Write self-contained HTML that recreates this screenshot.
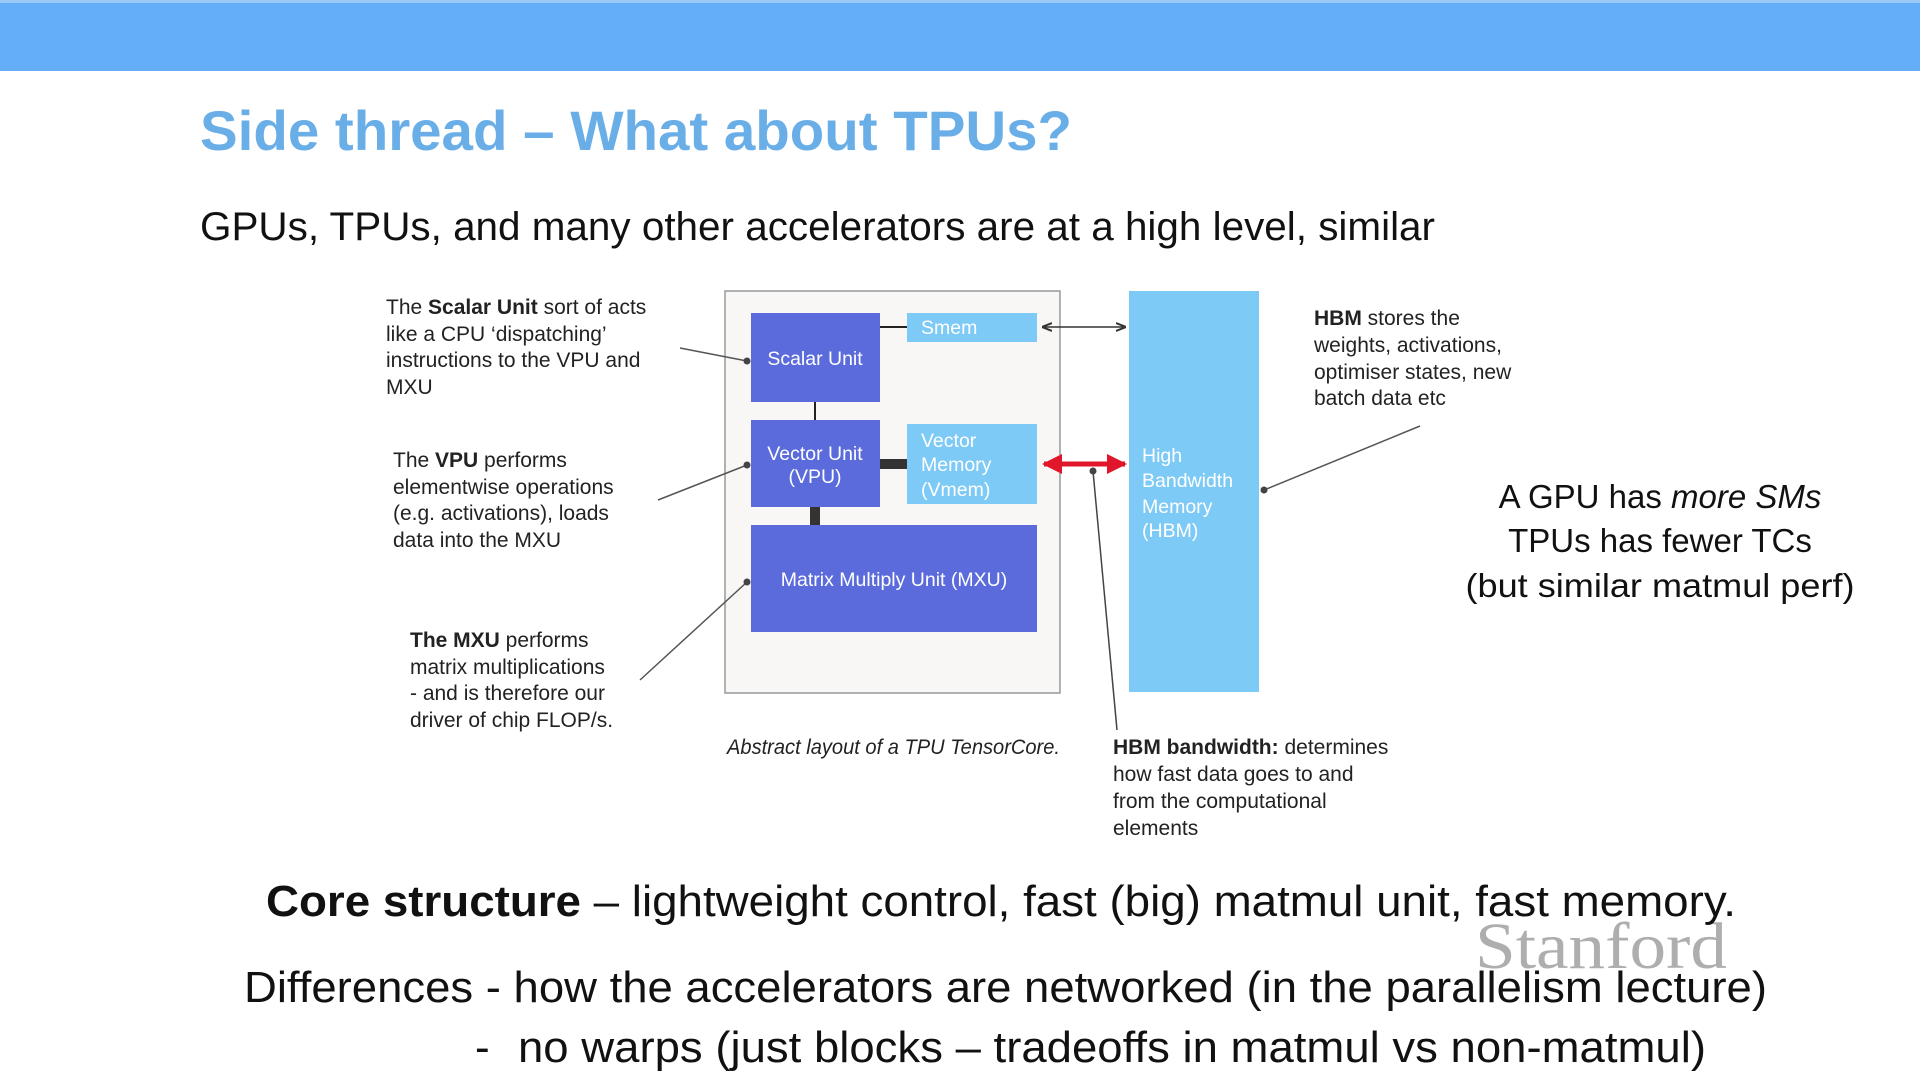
<!DOCTYPE html>
<html><head><meta charset="utf-8"><style>
html,body{margin:0;padding:0;background:#fff;}
svg{display:block;}
.a{font-family:"Liberation Sans",sans-serif;font-size:21px;fill:#222;}
.s{font-family:"Liberation Sans",sans-serif;fill:#111;}
.w{font-family:"Liberation Sans",sans-serif;font-size:19.5px;fill:#fff;}
</style></head><body>
<svg width="1920" height="1080" viewBox="0 0 1920 1080" xmlns="http://www.w3.org/2000/svg">
<defs>
<marker id="ab" markerWidth="10" markerHeight="10" refX="9" refY="5" orient="auto-start-reverse" markerUnits="userSpaceOnUse"><path d="M0,1 L10,5 L0,9" fill="none" stroke="#333" stroke-width="2"/></marker>
<marker id="ar" markerWidth="20" markerHeight="20" refX="18" refY="10" orient="auto-start-reverse" markerUnits="userSpaceOnUse"><path d="M0,0 L20,10 L0,20 Z" fill="#e0162b"/></marker>
</defs>
<rect x="0" y="0" width="1920" height="71" fill="#64aef8"/>
<rect x="0" y="0" width="1920" height="3" fill="#9ccaf8"/>
<text x="200" y="150" class="s" font-size="56" font-weight="bold" style="fill:#6aaee8" textLength="872" lengthAdjust="spacingAndGlyphs">Side thread – What about TPUs?</text>
<text x="200" y="240" class="s" font-size="40" textLength="1235" lengthAdjust="spacingAndGlyphs">GPUs, TPUs, and many other accelerators are at a high level, similar</text>

<rect x="725" y="291" width="335" height="402" fill="#f8f7f5" stroke="#999" stroke-width="1.5"/>
<rect x="1129" y="291" width="130" height="401" fill="#7ecaf6"/>
<line x1="815" y1="402" x2="815" y2="420" stroke="#222" stroke-width="2"/>
<line x1="880" y1="327" x2="907" y2="327" stroke="#222" stroke-width="2"/>
<rect x="880" y="459" width="27" height="10" fill="#333"/>
<rect x="810" y="507" width="10" height="18" fill="#333"/>
<rect x="751" y="313" width="129" height="89" fill="#5b6bdb"/>
<rect x="907" y="313" width="130" height="29" fill="#7ecaf6"/>
<rect x="751" y="420" width="129" height="87" fill="#5b6bdb"/>
<rect x="907" y="424" width="130" height="80" fill="#7ecaf6"/>
<rect x="751" y="525" width="286" height="107" fill="#5b6bdb"/>
<text x="815" y="365" class="w" text-anchor="middle">Scalar Unit</text>
<text x="921" y="334" class="w">Smem</text>
<text x="815" y="460" class="w" text-anchor="middle">Vector Unit</text>
<text x="815" y="483" class="w" text-anchor="middle">(VPU)</text>
<text x="921" y="447" class="w">Vector</text>
<text x="921" y="471" class="w">Memory</text>
<text x="921" y="496" class="w">(Vmem)</text>
<text x="894" y="586" class="w" text-anchor="middle">Matrix Multiply Unit (MXU)</text>
<text x="1142" y="462" class="w">High</text>
<text x="1142" y="487" class="w">Bandwidth</text>
<text x="1142" y="513" class="w">Memory</text>
<text x="1142" y="537" class="w">(HBM)</text>
<line x1="1043" y1="327" x2="1125" y2="327" stroke="#333" stroke-width="1.5" marker-start="url(#ab)" marker-end="url(#ab)"/>
<line x1="1044" y1="464" x2="1125" y2="464" stroke="#e0162b" stroke-width="5" marker-start="url(#ar)" marker-end="url(#ar)"/>
<line x1="1093" y1="471" x2="1117" y2="730" stroke="#444" stroke-width="1.5"/>
<circle cx="1093" cy="471" r="3.5" fill="#444"/>
<g stroke="#555" stroke-width="1.5">
<line x1="680" y1="348" x2="747" y2="361"/>
<line x1="658" y1="500" x2="747" y2="465"/>
<line x1="640" y1="680" x2="747" y2="582"/>
<line x1="1420" y1="426" x2="1264" y2="490"/>
</g>
<g fill="#444"><circle cx="747" cy="361" r="3.5"/><circle cx="747" cy="465" r="3.5"/><circle cx="747" cy="582" r="3.5"/><circle cx="1264" cy="490" r="3.5"/></g>

<text class="a" x="386" y="314">The <tspan font-weight="bold">Scalar Unit</tspan> sort of acts</text>
<text class="a" x="386" y="341">like a CPU ‘dispatching’</text>
<text class="a" x="386" y="367">instructions to the VPU and</text>
<text class="a" x="386" y="394">MXU</text>
<text class="a" x="393" y="467">The <tspan font-weight="bold">VPU</tspan> performs</text>
<text class="a" x="393" y="494">elementwise operations</text>
<text class="a" x="393" y="520">(e.g. activations), loads</text>
<text class="a" x="393" y="547">data into the MXU</text>
<text class="a" x="410" y="647"><tspan font-weight="bold">The MXU</tspan> performs</text>
<text class="a" x="410" y="674">matrix multiplications</text>
<text class="a" x="410" y="700">- and is therefore our</text>
<text class="a" x="410" y="727">driver of chip FLOP/s.</text>
<text class="a" x="1314" y="325"><tspan font-weight="bold">HBM</tspan> stores the</text>
<text class="a" x="1314" y="352">weights, activations,</text>
<text class="a" x="1314" y="379">optimiser states, new</text>
<text class="a" x="1314" y="405">batch data etc</text>
<text class="a" x="727" y="754" font-style="italic" textLength="333" lengthAdjust="spacingAndGlyphs">Abstract layout of a TPU TensorCore.</text>
<text class="a" x="1113" y="754"><tspan font-weight="bold">HBM bandwidth:</tspan> determines</text>
<text class="a" x="1113" y="781">how fast data goes to and</text>
<text class="a" x="1113" y="808">from the computational</text>
<text class="a" x="1113" y="835">elements</text>

<text class="s" x="1660" y="508" font-size="33" text-anchor="middle">A GPU has <tspan font-style="italic">more SMs</tspan></text>
<text class="s" x="1660" y="552" font-size="33" text-anchor="middle">TPUs has fewer TCs</text>
<text class="s" x="1660" y="597" font-size="33" text-anchor="middle" textLength="389" lengthAdjust="spacingAndGlyphs">(but similar matmul perf)</text>

<text x="1475" y="968" font-family="'Liberation Serif',serif" font-size="66" fill="#9a9a9a" fill-opacity="0.8" textLength="252" lengthAdjust="spacingAndGlyphs">Stanford</text>
<text class="s" x="266" y="916" font-size="44" textLength="1470" lengthAdjust="spacingAndGlyphs"><tspan font-weight="bold">Core structure</tspan> – lightweight control, fast (big) matmul unit, fast memory.</text>
<text class="s" x="244" y="1002" font-size="44" textLength="1523" lengthAdjust="spacingAndGlyphs">Differences -  how the accelerators are networked (in the parallelism lecture)</text>
<text class="s" x="475" y="1062" font-size="44">-</text>
<text class="s" x="518" y="1062" font-size="44" textLength="1188" lengthAdjust="spacingAndGlyphs">no warps (just blocks – tradeoffs in matmul vs non-matmul)</text>
</svg>
</body></html>
